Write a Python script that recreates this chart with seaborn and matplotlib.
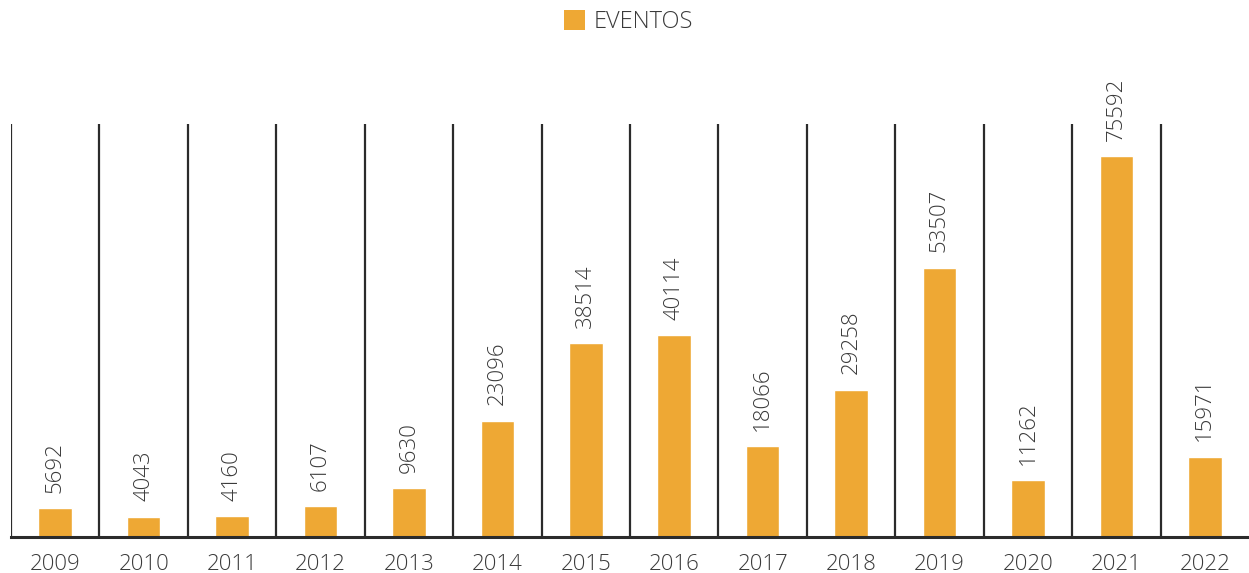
import pandas as pd
import seaborn as sns
import matplotlib.pyplot as plt
from matplotlib.patches import Patch

years = ['2009', '2010', '2011', '2012', '2013', '2014', '2015',
         '2016', '2017', '2018', '2019', '2020', '2021', '2022']
eventos = [5692, 4043, 4160, 6107, 9630, 23096, 38514,
           40114, 18066, 29258, 53507, 11262, 75592, 15971]

df = pd.DataFrame({'Año': years, 'Eventos': eventos})

sns.set_style('white')
plt.rcParams['font.family'] = ['Open Sans', 'DejaVu Sans']
plt.rcParams['font.weight'] = 'light'

bar_color = '#EEA834'
text_color = '#3a3a3a'

fig = plt.figure(figsize=(12.49, 5.73), dpi=100)
ax = fig.add_axes([11 / 1249, 36 / 573, 1 - 11 / 1249, 413 / 573])

sns.barplot(data=df, x='Año', y='Eventos', color=bar_color, width=0.38,
            saturation=1, ax=ax)

# valores encima de cada barra, en vertical
ax.bar_label(ax.containers[0], rotation=90, padding=11,
             fontsize=16, color=text_color, fontweight='light')

# separadores verticales entre años
for i in range(len(years)):
    ax.axvline(i - 0.5, color='#2b2b2b', lw=1.6, zorder=0)

ax.set_xlim(-0.5, len(years) - 0.5)
ax.set_ylim(0, 82000)
ax.set_yticks([])
ax.set_xlabel('')
ax.set_ylabel('')
ax.tick_params(axis='x', length=0, pad=12, labelsize=16, labelcolor=text_color)

for side in ['top', 'right', 'left']:
    ax.spines[side].set_visible(False)
ax.spines['bottom'].set_color('#2b2b2b')
ax.spines['bottom'].set_linewidth(2.2)

handle = Patch(facecolor=bar_color, edgecolor='none')
fig.legend([handle], ['EVENTOS'], loc='center', bbox_to_anchor=(0.503, 1 - 22 / 573),
           frameon=False, fontsize=17, labelcolor=text_color,
           handlelength=0.9, handleheight=0.9, handletextpad=0.35)

fig.savefig('out.png', dpi=100)
